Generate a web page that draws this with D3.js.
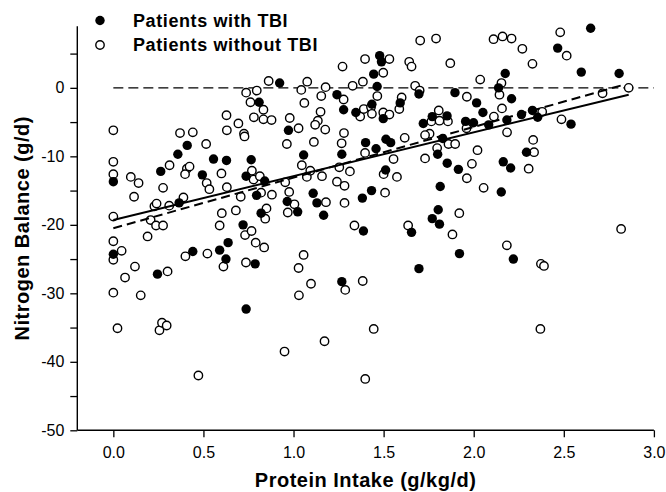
<!DOCTYPE html>
<html><head><meta charset="utf-8">
<script src="https://cdn.jsdelivr.net/npm/d3@7"></script>
<style>body{margin:0;background:#fff}svg{display:block}text{font-family:Arial,"Liberation Sans",sans-serif}</style>
</head><body><svg id="c" width="666" height="492"></svg>
<script>
const xTicks = [0,0.5,1.0,1.5,2.0,2.5,3.0];
const yTicks = [-50,-45,-40,-35,-30,-25,-20,-15,-10,-5,0,5];
const yLabelTicks = [-50,-40,-30,-20,-10,0];
const legendLabels = ["Patients with TBI","Patients without TBI"];
const withTBI = [
[0.0,-13.7],[0.0,-24.3],[0.245,-27.2],[0.263,-12.2],[0.358,-9.7],[0.365,-16.8],[0.41,-8.4],[0.441,-23.9],
[0.494,-12.7],[0.556,-10.4],[0.59,-23.7],[0.628,-10.6],[0.637,-22.6],[0.625,-25.0],[0.72,-20.0],[0.737,-32.3],
[0.737,-12.9],[0.765,-10.5],[0.787,-25.7],[0.795,-15.7],[0.809,-2.1],[0.82,-18.3],[0.84,-13.6],[0.923,0.7],
[0.965,-16.6],[0.972,-6.2],[1.023,-18.1],[1.056,-9.8],[1.109,-15.4],[1.13,-16.8],[1.167,-18.6],[1.241,-1.0],
[1.268,-9.7],[1.268,-28.3],[1.278,-3.2],[1.346,-3.6],[1.382,-16.1],[1.388,-20.9],[1.4,-8.0],[1.433,-15.0],
[1.435,-2.4],[1.445,2.0],[1.458,-8.9],[1.464,0.2],[1.478,4.7],[1.488,3.8],[1.498,-4.5],[1.511,-12.0],
[1.513,-7.5],[1.539,-8.0],[1.592,-2.2],[1.655,-21.1],[1.696,-0.9],[1.696,-26.4],[1.72,-5.2],[1.77,-4.2],
[1.77,-19.1],[1.8,-9.7],[1.803,-17.8],[1.81,-19.9],[1.814,-14.4],[1.828,-7.4],[1.852,-4.1],[1.853,-11.0],
[1.896,-0.7],[1.915,-11.9],[1.921,-24.2],[1.955,-4.9],[1.999,-5.1],[2.016,-2.2],[2.051,-3.6],[2.083,-5.4],
[2.138,0.0],[2.153,-15.2],[2.164,-10.8],[2.175,2.1],[2.184,-4.7],[2.205,-11.7],[2.21,-1.6],[2.22,-25.0],
[2.265,-3.9],[2.293,-9.4],[2.326,-3.3],[2.355,-4.3],[2.466,5.8],[2.54,-5.3],[2.597,2.3],[2.649,8.7],[2.807,2.1]
];
const withoutTBI = [
[0.0,-6.2],[0.0,-10.8],[0.0,-12.6],[0.0,-18.8],[0.0,-22.4],[0.0,-25.1],[0.0,-29.9],[0.023,-35.1],
[0.046,-23.8],[0.065,-27.7],[0.097,-13.0],[0.14,-13.9],[0.115,-15.9],[0.12,-26.1],[0.152,-30.3],[0.19,-21.7],
[0.207,-19.3],[0.237,-20.1],[0.276,-20.1],[0.228,-17.3],[0.24,-16.9],[0.276,-14.6],[0.312,-11.3],[0.31,-17.2],
[0.301,-26.8],[0.256,-35.4],[0.27,-34.3],[0.296,-34.7],[0.37,-6.6],[0.441,-6.5],[0.389,-16.0],[0.408,-11.8],
[0.423,-11.5],[0.398,-12.6],[0.40,-24.6],[0.472,-42.0],[0.515,-8.2],[0.518,-13.9],[0.533,-14.8],[0.522,-24.2],
[0.60,-12.5],[0.628,-4.0],[0.63,-6.2],[0.63,-14.5],[0.602,-18.3],[0.59,-20.1],[0.611,-26.1],[0.68,-17.9],
[0.694,-5.2],[0.725,-6.7],[0.728,-7.1],[0.707,-15.9],[0.737,-0.7],[0.761,-2.1],[0.796,-0.4],[0.78,-4.3],
[0.833,-3.2],[0.833,-4.6],[0.878,-4.7],[0.862,1.0],[0.769,-12.1],[0.778,-13.4],[0.813,-12.9],[0.82,-15.3],
[0.88,-15.6],[0.85,-17.6],[0.843,-19.1],[0.731,-21.5],[0.767,-20.9],[0.79,-22.6],[0.837,-23.3],[0.736,-25.5],
[0.95,-38.5],[0.954,-13.8],[0.976,-15.2],[1.005,-17.0],[0.968,-18.2],[0.963,-8.2],[0.979,-4.4],[1.028,-5.9],
[1.043,-0.3],[1.076,0.9],[1.06,-2.2],[1.046,-11.3],[1.074,-13.0],[1.093,-12.1],[1.18,-16.7],[1.113,-7.9],
[1.15,-3.5],[1.135,-4.8],[1.12,-5.4],[1.176,-6.1],[1.154,-1.2],[1.178,0.1],[1.158,-12.9],[1.028,-26.3],
[1.056,-24.4],[1.03,-30.3],[1.097,-28.6],[1.172,-37.0],
[1.254,-11.6],[1.241,-13.7],[1.283,-14.3],[1.313,-12.2],[1.283,-16.8],[1.267,-8.1],[1.28,-6.6],[1.272,3.1],
[1.278,-1.7],[1.287,-29.5],[1.338,-20.1],[1.328,0.3],[1.385,0.9],[1.397,4.2],[1.37,-4.2],[1.39,-3.1],
[1.397,-9.5],[1.384,-28.2],[1.398,-42.5],[1.445,-35.2],[1.43,-2.8],[1.435,-3.8],[1.465,-1.2],[1.498,2.2],
[1.532,4.2],[1.498,-3.6],[1.532,-3.9],[1.587,-3.1],[1.6,-1.4],[1.5,-12.6],[1.508,-15.3],[1.555,-10.4],
[1.574,-13.0],[1.617,-7.3],
[1.642,3.8],[1.655,3.1],[1.703,6.9],[1.791,7.2],[1.87,3.6],[1.675,0.3],[1.70,-0.4],[1.962,-1.3],
[1.636,-20.1],[1.73,-10.3],[1.797,-8.8],[1.806,-3.3],[1.765,-4.9],[1.81,-4.8],[1.857,-4.9],[1.755,-6.7],
[1.73,-6.9],[1.86,-8.2],[1.897,-8.2],[1.882,-21.4],[1.92,-18.3],[1.96,-5.9],[1.99,-11.1],[1.962,-13.2],
[2.021,-9.1],[2.055,-14.6],[2.036,1.2],[2.11,7.1],[2.16,7.5],[2.21,7.2],[2.27,5.7],[2.326,3.5],
[2.154,0.7],[2.143,-1.0],[2.157,-3.0],[2.112,-4.2],[2.185,-6.5],[2.184,-23.0],[2.305,-11.8],[2.335,-9.4],
[2.33,-7.6],[2.38,-3.5],[2.373,-25.7],[2.39,-26.0],[2.37,-35.2],[2.48,8.1],[2.516,4.7],[2.487,-4.6],
[2.715,-0.8],[2.86,0.0],[2.818,-20.6]
];
const fitSolid = [[0.0,-19.3],[2.86,-1.0]];
const fitDashed = [[0.0,-20.5],[2.84,0.5]];
const zeroLine = [[0.0,0],[3.0,0]];

const svg = d3.select("#c");
const x = d3.scaleLinear().domain([-0.2,3.0]).range([77.3,653.9]);
const y = d3.scaleLinear().domain([-50,9]).range([430.3,26.2]);
const FONT = "Arial, 'Liberation Sans', sans-serif";

// axes
const xAxis = d3.axisBottom(x).tickValues(xTicks).tickFormat(d3.format(".1f")).tickSizeOuter(0).tickSize(7).tickPadding(9);
const gx = svg.append("g").attr("transform",`translate(0,${y(-50)})`).call(xAxis);
gx.select(".domain").attr("d",`M${x(-0.2)},0H${x(3.0)}`).attr("stroke-width",1.4);
gx.selectAll(".tick line").attr("stroke-width",1.3);
gx.selectAll("text").attr("font-size",16).attr("fill","#000").attr("font-family",FONT);

const yAxis = d3.axisLeft(y).tickValues(yTicks).tickFormat(d=> yLabelTicks.includes(d)? String(d):"").tickSizeOuter(0).tickSize(7).tickPadding(6);
const gy = svg.append("g").attr("transform",`translate(${x(-0.2)},0)`).call(yAxis);
gy.select(".domain").attr("d",`M0,${y(-50)}V${y(9)}`).attr("stroke-width",1.4);
gy.selectAll(".tick line").attr("stroke-width",1.3);
gy.selectAll("text").attr("font-size",16).attr("fill","#000").attr("font-family",FONT);

// zero line
const line = d3.line().x(d=>x(d[0])).y(d=>y(d[1]));
svg.append("path").attr("d",line(zeroLine)).attr("stroke","#000").attr("stroke-width",1.4).attr("fill","none").attr("stroke-dasharray","10,5");

// points
svg.append("g").selectAll("circle").data(withoutTBI).join("circle")
  .attr("cx",d=>x(d[0])).attr("cy",d=>y(d[1])).attr("r",4.2)
  .attr("fill","#fff").attr("stroke","#000").attr("stroke-width",1.4);
svg.append("g").selectAll("circle").data(withTBI).join("circle")
  .attr("cx",d=>x(d[0])).attr("cy",d=>y(d[1])).attr("r",4.7)
  .attr("fill","#000").attr("stroke","none");

// fits
svg.append("path").attr("d",line(fitSolid)).attr("stroke","#000").attr("stroke-width",2).attr("fill","none");
svg.append("path").attr("d",line(fitDashed)).attr("stroke","#000").attr("stroke-width",2).attr("fill","none").attr("stroke-dasharray","9,5");

// legend
const lg = svg.append("g");
lg.append("circle").attr("cx",100).attr("cy",20.5).attr("r",4.7).attr("fill","#000");
lg.append("circle").attr("cx",100).attr("cy",45).attr("r",4.2).attr("fill","#fff").attr("stroke","#000").attr("stroke-width",1.4);
lg.selectAll("text").data(legendLabels).join("text")
  .attr("x",133).attr("y",(d,i)=>26.5+i*24.5).attr("font-size",18).attr("font-weight","bold").attr("letter-spacing","0.6px").text(d=>d);

// axis titles
svg.append("text").attr("x",(x(-0.2)+x(3.0))/2).attr("y",486.5).attr("text-anchor","middle")
  .attr("font-size",20).attr("font-weight","bold").attr("letter-spacing","0.5px").text("Protein Intake (g/kg/d)");
svg.append("text").attr("transform",`translate(29,${(y(-50)+y(9))/2}) rotate(-90)`).attr("text-anchor","middle")
  .attr("font-size",20).attr("font-weight","bold").attr("letter-spacing","0.5px").text("Nitrogen Balance (g/d)");
</script></body></html>
